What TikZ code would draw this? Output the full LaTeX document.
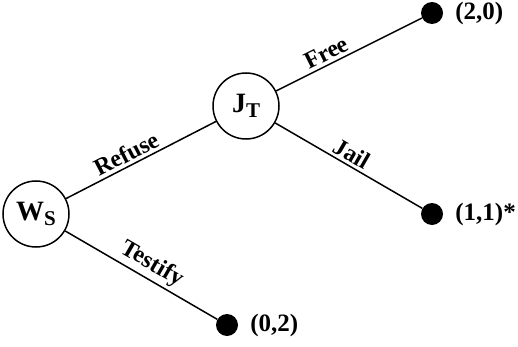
\documentclass[tikz,border=0pt]{standalone}
\usepackage{fontspec}
\setmainfont{Liberation Serif}
\begin{document}
\begin{tikzpicture}[x=1pt,y=-1pt,
  player/.style={circle,draw,line width=1.5pt,minimum size=66pt,inner sep=0pt,
    font=\fontsize{28}{30}\selectfont\bfseries},
  leaf/.style={circle,fill,minimum size=22pt,inner sep=0pt},
  branch/.style={line width=1.5pt},
  act/.style={sloped,above,inner sep=3pt,font=\fontsize{24}{26}\selectfont\bfseries},
  payoff/.style={right,inner sep=0pt,xshift=12pt,font=\fontsize{25}{28}\selectfont\bfseries}]
\useasboundingbox (0,0) rectangle (518,347);
\newcommand{\lowsub}[1]{\raisebox{-0.35ex}{\fontsize{21}{22}\selectfont #1}}
\node[player] (ws) at (36,214) {W\lowsub{S}};
\node[player] (jt) at (246,106) {J\lowsub{T}};
\node[leaf] (free) at (432,13) {};
\node[leaf] (jail) at (432,214) {};
\node[leaf] (test) at (227,325) {};
\draw[branch] (ws) -- node[act,pos=0.44] {Refuse} (jt);
\draw[branch] (jt) -- node[act,pos=0.38] {Free} (free);
\draw[branch] (jt) -- node[act,pos=0.48] {Jail} (jail);
\draw[branch] (ws) -- node[act,pos=0.52] {Testify} (test);
\node[payoff] (p1) at (free.east) {(2,0)};
\node[payoff] (p2) at (jail.east) {(1,1)*};
\node[payoff] (p3) at (test.east) {(0,2)};
\end{tikzpicture}
\end{document}
